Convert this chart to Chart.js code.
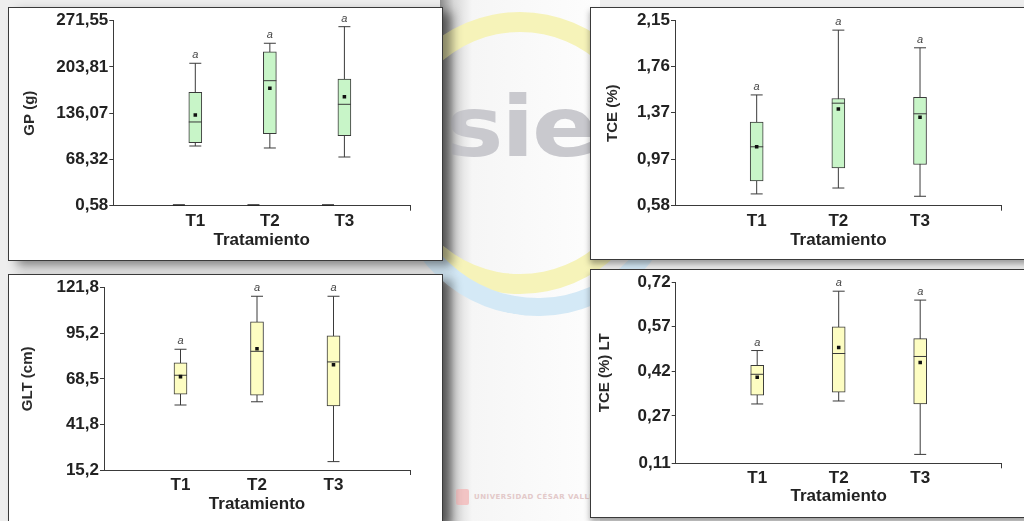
<!DOCTYPE html>
<html>
<head>
<meta charset="utf-8">
<script src="https://cdn.jsdelivr.net/npm/chart.js@4.4.0/dist/chart.umd.min.js"></script>
<style>
  body { margin: 0; width: 1024px; height: 521px; overflow: hidden; position: relative;
         background: #eeeeee; font-family: "Liberation Sans", Arial, sans-serif; }
  .gap { position: absolute; left: 440px; top: 0; width: 160px; height: 521px;
         background: linear-gradient(to right, #8e8e8e 0px, #d8d8d8 14px, #f6f6f6 32px, #fdfdfd 100%); }
  .ring { position: absolute; border-radius: 50%; box-sizing: border-box; }
  .ring.yellow { left: 380px; top: 12px; width: 280px; height: 282px; border: 20px solid #f6f3b9; }
  .ring.blue { left: 392px; top: 30px; width: 290px; height: 286px; border: 18px solid transparent;
               border-right-color: #d4e9f6; border-bottom-color: #d4e9f6; transform: rotate(10deg); }
  .sie { position: absolute; left: 446px; top: 78px; font: 900 84px "DejaVu Sans", sans-serif;
         color: #c9c9ce; letter-spacing: -2px; transform: scaleX(1.15); transform-origin: left; }
  .ucv { position: absolute; left: 456px; top: 489px; font: bold 7px "DejaVu Sans", sans-serif;
         color: #e3c9c9; letter-spacing: 0.5px; }
  .ucv i { display: inline-block; width: 13px; height: 16px; background: #f2c4c4; margin-right: 5px;
           vertical-align: middle; border-radius: 2px; }
  .panel { position: absolute; background: #fff; border: 1px solid #3a3a3a; }
  .panel.left { box-shadow: 9px 5px 10px rgba(0,0,0,0.45); }
  .panel.right { box-shadow: 0 4px 6px rgba(0,0,0,0.35); }
  canvas { display: block; }
</style>
</head>
<body>
<div class="gap"></div>
<div class="ring yellow"></div>
<div class="ring blue"></div>
<div class="sie">sie</div>
<div class="ucv"><i></i>UNIVERSIDAD CÉSAR VALLEJO</div>

<div class="panel left" style="left:8px;top:7px;"><canvas id="gp" width="433" height="252"></canvas></div>
<div class="panel right" style="left:590px;top:7px;"><canvas id="tce" width="438" height="251"></canvas></div>
<div class="panel left" style="left:8px;top:274px;"><canvas id="glt" width="433" height="246"></canvas></div>
<div class="panel right" style="left:590px;top:269px;"><canvas id="tcelt" width="438" height="247"></canvas></div>

<script>
const treatments = ['T1', 'T2', 'T3'];
const letters = ['a', 'a', 'a'];

// GP (g)
const gpTicks = [0.58, 68.32, 136.07, 203.81, 271.55];
const gpMin = [88.0, 85.1, 71.9];
const gpQ1 = [92.9, 106.0, 103.1];
const gpMedian = [123.2, 183.7, 149.1];
const gpMean = [133.4, 172.5, 160.2];
const gpQ3 = [166.7, 226.1, 186.2];
const gpMax = [209.2, 238.5, 262.8];
const gpBase = [0.58, 0.58, 0.58];

// TCE (%)
const tceTicks = [0.58, 0.97, 1.37, 1.76, 2.15];
const tceMin = [0.68, 0.73, 0.66];
const tceQ1 = [0.79, 0.90, 0.93];
const tceMedian = [1.08, 1.45, 1.36];
const tceMean = [1.08, 1.40, 1.33];
const tceQ3 = [1.29, 1.49, 1.50];
const tceMax = [1.52, 2.07, 1.92];

// GLT (cm)
const gltTicks = [15.2, 41.8, 68.5, 95.2, 121.8];
const gltMin = [53.2, 55.1, 20.1];
const gltQ1 = [59.5, 58.9, 52.6];
const gltMedian = [70.6, 84.6, 78.4];
const gltMean = [69.8, 86.1, 76.8];
const gltQ3 = [77.9, 101.9, 93.7];
const gltMax = [85.8, 116.8, 116.8];

// TCE (%) LT
const tceltTicks = [0.11, 0.27, 0.42, 0.57, 0.72];
const tceltMin = [0.31, 0.32, 0.14];
const tceltQ1 = [0.34, 0.35, 0.31];
const tceltMedian = [0.41, 0.48, 0.47];
const tceltMean = [0.40, 0.50, 0.45];
const tceltQ3 = [0.44, 0.57, 0.53];
const tceltMax = [0.49, 0.69, 0.66];

const FONT = '"Liberation Sans", Arial, sans-serif';
const INK = '#3a3a3a';

const letterPlugin = {
  id: 'letters',
  afterDatasetsDraw(chart, args, opts) {
    const { ctx, scales: { x, y } } = chart;
    ctx.save();
    ctx.font = 'italic 11px ' + FONT;
    ctx.fillStyle = '#444';
    ctx.textAlign = 'center';
    ctx.textBaseline = 'alphabetic';
    opts.max.forEach((m, i) => ctx.fillText(letters[i], x.getPixelForValue(i + 1), y.getPixelForValue(m) - 5));
    ctx.restore();
  }
};

function boxChart(id, o) {
  const canvas = document.getElementById(id);
  const W = canvas.width, H = canvas.height;
  const pos = treatments.map((t, i) => i + 1);
  const datasets = [];

  // whiskers
  pos.forEach((x, i) => datasets.push({
    type: 'line', data: [{ x, y: o.min[i] }, { x, y: o.max[i] }],
    borderColor: INK, borderWidth: 1, pointRadius: 0, order: 5
  }));
  // boxes q1..q3
  datasets.push({
    type: 'bar', data: pos.map((x, i) => ({ x, y: [o.q1[i], o.q3[i]] })),
    backgroundColor: o.fill, borderColor: INK, borderWidth: 1, borderSkipped: false,
    barThickness: 13, order: 4
  });
  // whisker caps
  datasets.push({
    type: 'scatter', data: pos.flatMap((x, i) => [{ x, y: o.min[i] }, { x, y: o.max[i] }]),
    pointStyle: 'line', pointRadius: 6, borderColor: INK, borderWidth: 1, order: 3
  });
  datasets.push({
    type: 'scatter', data: pos.map((x, i) => ({ x, y: o.median[i] })),
    pointStyle: 'line', pointRadius: 6.5, borderColor: INK, borderWidth: 1, order: 2
  });
  datasets.push({
    type: 'scatter', data: pos.map((x, i) => ({ x, y: o.mean[i] })),
    pointStyle: 'rect', pointRadius: 2.5, backgroundColor: '#111', borderColor: '#111', borderWidth: 0, order: 1
  });
  if (o.base) {
    datasets.push({
      type: 'scatter', data: pos.map((x, i) => ({ x: x - 0.22, y: o.base[i] })),
      pointStyle: 'line', pointRadius: 6, borderColor: '#222', borderWidth: 3, order: 0
    });
  }

  const dec = o.decimals;
  return new Chart(canvas, {
    type: 'bar',
    data: { datasets },
    options: {
      responsive: false, animation: false, devicePixelRatio: 1,
      layout: { padding: { left: 0, top: o.area.t, right: W - o.area.r, bottom: 0 } },
      plugins: { legend: { display: false }, tooltip: { enabled: false }, letters: { max: o.max } },
      scales: {
        x: {
          type: 'linear', min: o.xMin, max: o.xMax, offset: false,
          afterBuildTicks: s => { s.ticks = [1, 2, 3, o.xMax].map(v => ({ value: v })); },
          afterFit: s => { s.height = H - o.area.b; },
          ticks: { callback: v => treatments[v - 1] || '', autoSkip: false, maxRotation: 0, padding: 0,
                   color: '#222', font: { family: FONT, size: 17, weight: 'bold' } },
          grid: { offset: false, drawOnChartArea: false, tickLength: 5,
                  color: c => (c.tick && c.tick.value === o.xMax) ? INK : 'rgba(0,0,0,0)' },
          border: { color: INK, width: 1 },
          title: { display: true, text: 'Tratamiento', color: '#222',
                   font: { family: FONT, size: 17, weight: 'bold' }, padding: { top: 0, bottom: o.xTitlePad } }
        },
        y: {
          type: 'linear', min: o.ticks[0], max: o.ticks[o.ticks.length - 1],
          afterBuildTicks: s => { s.ticks = o.ticks.map(v => ({ value: v })); },
          afterFit: s => { s.width = o.area.l; },
          ticks: { callback: v => v.toFixed(dec).replace('.', ','), padding: 1,
                   color: '#222', font: { family: FONT, size: 17, weight: 'bold' } },
          grid: { drawOnChartArea: false, tickLength: 4, color: INK },
          border: { color: INK, width: 1 },
          title: { display: true, text: o.yTitle, color: '#2a2a2a',
                   font: { family: FONT, size: 15, weight: 'bold' }, padding: { top: o.yTitlePad, bottom: 0 } }
        }
      }
    },
    plugins: [letterPlugin]
  });
}

boxChart('gp', {
  min: gpMin, q1: gpQ1, median: gpMedian, mean: gpMean, q3: gpQ3, max: gpMax, base: gpBase,
  ticks: gpTicks, decimals: 2, yTitle: 'GP (g)', fill: '#c8f5c8',
  xMin: -0.1, xMax: 3.88, area: { l: 104.3, t: 12.7, r: 401, b: 197.7 }, xTitlePad: 9.8, yTitlePad: 12
});
boxChart('tce', {
  min: tceMin, q1: tceQ1, median: tceMedian, mean: tceMean, q3: tceQ3, max: tceMax,
  ticks: tceTicks, decimals: 2, yTitle: 'TCE (%)', fill: '#c8f5c8',
  xMin: 0, xMax: 4, area: { l: 84, t: 12.7, r: 410.7, b: 197.7 }, xTitlePad: 8.8, yTitlePad: 13.3
});
boxChart('glt', {
  min: gltMin, q1: gltQ1, median: gltMedian, mean: gltMean, q3: gltQ3, max: gltMax,
  ticks: gltTicks, decimals: 1, yTitle: 'GLT (cm)', fill: '#fdfdc2',
  xMin: 0, xMax: 4, area: { l: 95, t: 12.7, r: 401, b: 195 }, xTitlePad: 6.5, yTitlePad: 10.3
});
boxChart('tcelt', {
  min: tceltMin, q1: tceltQ1, median: tceltMedian, mean: tceltMean, q3: tceltQ3, max: tceltMax,
  ticks: tceltTicks, decimals: 2, yTitle: 'TCE (%) LT', fill: '#fdfdc2',
  xMin: 0, xMax: 4, area: { l: 84.7, t: 12.3, r: 410.7, b: 193.3 }, xTitlePad: 10.1, yTitlePad: 5
});
</script>
</body>
</html>
